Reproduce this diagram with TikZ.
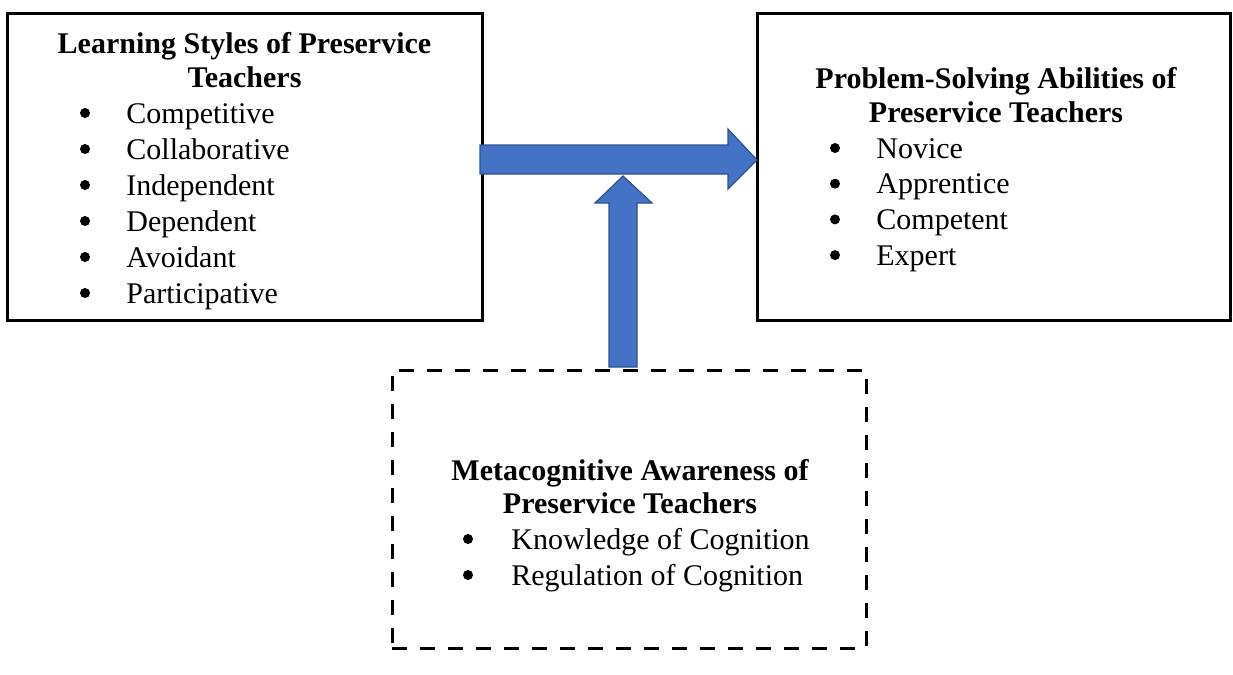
\documentclass[tikz,border=0pt]{standalone}
\usepackage{fontspec}
\setmainfont{Liberation Serif}
\definecolor{arrowfill}{HTML}{4472C4}
\definecolor{arrowedge}{HTML}{2F528F}
\begin{document}
\begin{tikzpicture}[x=0.5pt,y=-0.5pt,
  box/.style={draw=black,line width=1.5pt,inner sep=0pt},
  dashbox/.style={draw=black,line width=1.5pt,inner sep=0pt,dash pattern=on 7.5pt off 6.5pt},
  ttl/.style={anchor=base,inner sep=0pt,font=\fontsize{15}{18}\selectfont\bfseries},
  itm/.style={anchor=base west,inner sep=0pt,font=\fontsize{15}{18}\selectfont},
  blt/.style={circle,fill=black,inner sep=0pt,minimum size=5pt},
  blockarrow/.style={fill=arrowfill,draw=arrowedge,line width=0.6pt,line join=miter}]
\useasboundingbox (0,0) rectangle (1233,675);
% boxes
\node[box,minimum width=237.5pt,minimum height=153.5pt] (ls) at (244.5,166.5) {};
\node[box,minimum width=236.5pt,minimum height=153.5pt] (ps) at (993.5,166.5) {};
\node[dashbox,minimum width=237pt,minimum height=139pt] (ma) at (629,509) {};
% left box text
\node[ttl] (lsA) at (244.5,53) {Learning Styles of Preservice};
\node[ttl] (lsB) at (244.5,87) {Teachers};
\foreach \t [count=\i] in {Competitive,Collaborative,Independent,Dependent,Avoidant,Participative}{
  \node[blt] (lsb\i) at (85,{113+36*(\i-1)}) {};
  \node[itm] (lsi\i) at (126,{123+36*(\i-1)}) {\t};
}
% right box text
\node[ttl] (psA) at (996,88) {Problem-Solving Abilities of};
\node[ttl] (psB) at (996,122) {Preservice Teachers};
\foreach \t [count=\i] in {Novice,Apprentice,Competent,Expert}{
  \node[blt] (psb\i) at (835,{148+35.7*(\i-1)}) {};
  \node[itm] (psi\i) at (876,{158+35.7*(\i-1)}) {\t};
}
% dashed box text
\node[ttl] (maA) at (630,480) {Metacognitive Awareness of};
\node[ttl] (maB) at (630,513) {Preservice Teachers};
\node[blt] (mab1) at (468,539) {};
\node[itm] (mai1) at (511,549) {Knowledge of Cognition};
\node[blt] (mab2) at (468,575) {};
\node[itm] (mai2) at (511,585) {Regulation of Cognition};
% block arrows
\draw[blockarrow] (480,145) -- (728,145) -- (728,129) -- (757,160) -- (728,189) -- (728,174) -- (480,174) -- cycle;
\draw[blockarrow] (609,367) -- (609,203) -- (595,203) -- (623,176) -- (652,203) -- (637,203) -- (637,367) -- cycle;
\end{tikzpicture}
\end{document}
